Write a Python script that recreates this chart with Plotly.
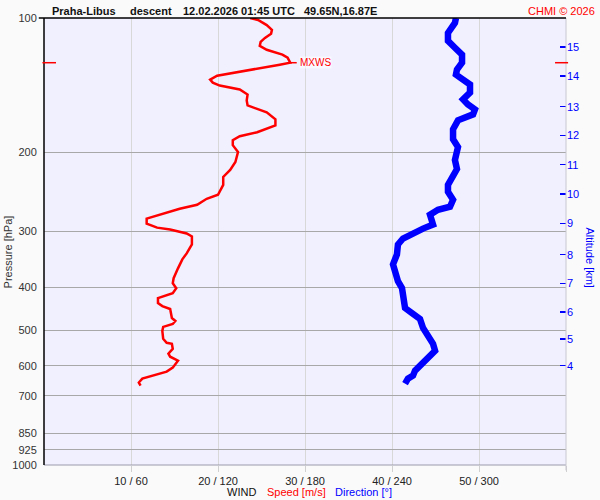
import math
import plotly.graph_objects as go

# ---- data ----
speed_p = [100.0, 101.0, 103.7, 106.3, 108.5, 110.8, 113.1, 115.4, 117.8, 120.8, 122.7, 125.9,
           127.2, 129.8, 132.5, 134.6, 137.3, 139.5, 141.6, 144.5, 148.3, 152.9, 156.9, 162.6,
           168.5, 173.8, 180.1, 183.8, 187.6, 192.5, 199.5, 210.0, 218.8, 226.8, 236.2, 243.6,
           248.6, 253.8, 261.7, 267.1, 275.4, 281.1, 288.4, 294.4, 297.4, 303.5, 308.2, 321.1,
           336.2, 346.7, 363.1, 382.1, 392.1, 402.2, 412.6, 419.0, 423.3, 434.3, 441.0, 447.8,
           468.9, 476.2, 483.6, 491.0, 501.2, 522.1, 532.9, 535.7, 549.5, 563.8, 572.5, 584.3,
           605.6, 618.1, 634.1, 640.7, 653.9, 664.1]
speed_ms = [23.7, 24.6, 25.6, 26.2, 26.1, 25.4, 24.9, 24.8, 25.6, 27.4, 28.0, 28.3,
            27.1, 24.5, 21.7, 19.9, 19.1, 19.4, 20.2, 22.5, 23.4, 23.3, 23.4, 25.6,
            26.6, 26.6, 24.5, 22.5, 21.7, 21.7, 22.3, 22.0, 21.4, 20.6, 20.6, 20.2,
            20.0, 18.7, 17.6, 15.6, 13.3, 11.8, 11.8, 13.0, 14.5, 16.4, 17.0, 17.0,
            16.4, 15.9, 15.4, 14.9, 14.8, 15.2, 14.8, 13.9, 13.1, 13.1, 13.6, 14.5,
            14.7, 15.1, 14.8, 13.7, 13.6, 13.7, 14.1, 14.7, 14.8, 14.3, 14.5, 15.4,
            14.8, 14.1, 12.2, 11.3, 10.9, 11.1]

dir_p = [100.0, 102.6, 108.0, 112.5, 116.6, 120.8, 125.9, 130.5, 133.9, 137.3, 140.9, 146.8,
         152.1, 156.1, 160.1, 164.3, 169.4, 177.4, 186.7, 194.5, 199.5, 207.9, 217.7, 226.8,
         236.2, 244.8, 255.1, 264.4, 268.5, 275.4, 285.5, 289.9, 295.9, 303.5, 311.4, 321.1,
         337.9, 355.7, 374.4, 388.1, 402.2, 423.3, 445.5, 457.1, 471.4, 493.6, 514.2, 535.7,
         555.2, 575.4, 593.4, 615.0, 631.0, 640.7, 657.3]
dir_deg = [284.1, 283.4, 278.6, 278.6, 283.4, 288.3, 288.3, 284.8, 284.1, 289.0, 293.8, 293.8,
           289.0, 292.4, 297.2, 295.9, 285.5, 282.1, 282.1, 285.5, 284.8, 283.4, 284.8, 281.4,
           278.6, 278.6, 282.1, 280.0, 271.7, 266.2, 267.6, 268.3, 261.4, 254.5, 247.6, 244.1,
           243.4, 240.7, 242.1, 244.1, 246.9, 247.6, 249.0, 253.8, 259.3, 261.4, 264.8, 268.3,
           269.7, 264.8, 259.3, 255.9, 254.5, 251.0, 249.0]

mxws_speed = 28.3
mxws_p = 125.9

p_ticks = [100, 200, 300, 400, 500, 600, 700, 850, 925, 1000]
p_labels = ["100", "200", "300", "400", "500", "600", "700", "850", "925", "1000"]

x_ticks = [10, 20, 30, 40, 50, 60]
x_labels = ["10 / 60", "20 / 120", "30 / 180", "40 / 240", "50 / 300", ""]

alt_km = ["15", "14", "13", "12", "11", "10", "9", "8", "7", "6", "5", "4"]
alt_p = [116.0, 134.8, 157.9, 183.2, 212.9, 247.7, 288.0, 338.5, 392.6, 454.1, 522.9, 599.5]

FONT = "Liberation Sans, Arial, sans-serif"
RED = "#ff0000"
BLUE = "#0000ff"

fig = go.Figure()
fig.add_trace(go.Scatter(x=speed_ms, y=speed_p, mode="lines",
                         line=dict(color=RED, width=2.5), xaxis="x", yaxis="y",
                         hoverinfo="skip", showlegend=False))
fig.add_trace(go.Scatter(x=dir_deg, y=dir_p, mode="lines",
                         line=dict(color=BLUE, width=6.5), xaxis="x2", yaxis="y",
                         hoverinfo="skip", showlegend=False))
fig.add_trace(go.Scatter(x=[mxws_speed, mxws_speed + 0.75], y=[mxws_p, mxws_p], mode="lines",
                         line=dict(color=RED, width=1.5), xaxis="x", yaxis="y",
                         hoverinfo="skip", showlegend=False))
# invisible trace to activate right axis
fig.add_trace(go.Scatter(x=[None], y=[None], xaxis="x", yaxis="y2", showlegend=False))

fig.update_layout(
    width=600, height=500,
    margin=dict(l=44, r=34, t=15, b=35),
    paper_bgcolor="#fafafa",
    plot_bgcolor="#f0f0ff",
    font=dict(family=FONT, size=11, color="#222222"),
    showlegend=False,
    xaxis=dict(range=[0, 60], tickvals=x_ticks, ticktext=x_labels,
               showgrid=True, gridcolor="#d8d8d8", gridwidth=1,
               ticks="outside", ticklen=6, tickcolor="#d0d0d0",
               zeroline=False, showline=False, tickfont=dict(size=11, color="#222222")),
    xaxis2=dict(range=[0, 360], overlaying="x", visible=False),
    yaxis=dict(type="log", range=[3, 2], tickvals=p_ticks, ticktext=p_labels,
               showgrid=True, gridcolor="#a8a8a8", gridwidth=1,
               ticks="outside", ticklen=4, tickcolor="rgba(0,0,0,0)",
               zeroline=False, showline=False, tickfont=dict(size=11, color="#333333")),
    yaxis2=dict(type="log", range=[3, 2], overlaying="y", side="right", anchor="x",
                tickvals=alt_p, ticktext=alt_km, ticks="inside", ticklen=6,
                tickcolor=BLUE, tickwidth=1.5, showgrid=False, zeroline=False, showline=False,
                tickfont=dict(size=11, color=BLUE)),
)

shapes = [
    dict(type="line", xref="paper", yref="paper", x0=0, x1=1.0, y0=0, y1=0,
         line=dict(color="#9a9aaa", width=1)),
    dict(type="line", xref="paper", yref="paper", x0=1, x1=1, y0=-0.012, y1=1,
         line=dict(color="#c8c8d0", width=1)),
    dict(type="line", xref="paper", yref="paper", x0=0, x1=0, y0=0, y1=1,
         line=dict(color="#000000", width=1.5)),
    dict(type="line", xref="paper", yref="paper", x0=-0.01, x1=1.0, y0=1, y1=1,
         line=dict(color="#000000", width=1.5)),
    dict(type="line", xref="paper", yref="y", x0=-0.003, x1=0.023, y0=mxws_p, y1=mxws_p,
         line=dict(color=RED, width=1.5)),
    dict(type="line", xref="paper", yref="y", x0=0.979, x1=1.004, y0=mxws_p, y1=mxws_p,
         line=dict(color=RED, width=1.5)),
]
fig.update_layout(shapes=shapes)

def px(x):
    return (x - 44) / 522.0

def py(y):
    return (465 - y) / 450.0

ann = []
title_parts = [("Praha-Libus", 50), ("descent", 128), ("12.02.2026 01:45 UTC", 181), ("49.65N,16.87E", 302)]
for t, x in title_parts:
    ann.append(dict(text="<b>" + t + "</b>", xref="paper", yref="paper", x=px(x), y=py(8),
                    xanchor="left", yanchor="middle", showarrow=False,
                    font=dict(size=11, color="#111111", family=FONT)))
ann.append(dict(text="CHMI © 2026", xref="paper", yref="paper", x=px(597), y=py(8),
                xanchor="right", yanchor="middle", showarrow=False,
                font=dict(size=11, color=RED, family=FONT)))
ann.append(dict(text="WIND", xref="paper", yref="paper", x=px(225), y=py(492),
                xanchor="left", yanchor="middle", showarrow=False,
                font=dict(size=11, color="#111111", family=FONT)))
ann.append(dict(text="Speed [m/s]", xref="paper", yref="paper", x=px(264.5), y=py(492),
                xanchor="left", yanchor="middle", showarrow=False,
                font=dict(size=11, color=RED, family=FONT)))
ann.append(dict(text="Direction [°]", xref="paper", yref="paper", x=px(332.5), y=py(492),
                xanchor="left", yanchor="middle", showarrow=False,
                font=dict(size=11, color=BLUE, family=FONT)))
ann.append(dict(text="Pressure [hPa]", xref="paper", yref="paper", x=px(8), y=py(251),
                xanchor="center", yanchor="middle", textangle=-90, showarrow=False,
                font=dict(size=11, color="#333333", family=FONT)))
ann.append(dict(text="Altitude [km]", xref="paper", yref="paper", x=px(590), y=py(256),
                xanchor="center", yanchor="middle", textangle=90, showarrow=False,
                font=dict(size=11, color=BLUE, family=FONT)))
ann.append(dict(text="MXWS", xref="x", yref="y", x=mxws_speed, y=math.log10(mxws_p),
                xshift=9, xanchor="left", yanchor="middle", showarrow=False,
                bgcolor="rgba(255,255,255,0.6)", borderpad=0,
                font=dict(size=10, color=RED, family=FONT)))
fig.update_layout(annotations=ann)

fig.write_html("out.html",
               config={"displayModeBar": False, "staticPlot": True},
               post_script="document.body.style.margin='0px';document.body.style.overflow='hidden';")
